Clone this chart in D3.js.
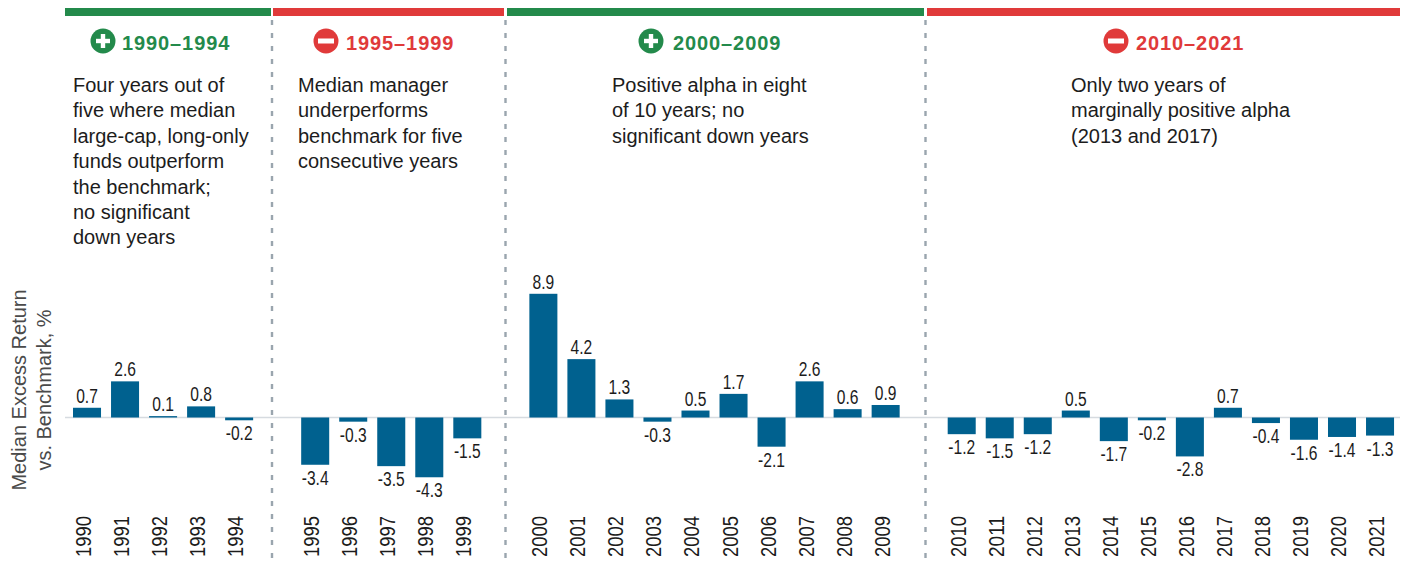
<!DOCTYPE html>
<html>
<head>
<meta charset="utf-8">
<style>
html, body { margin: 0; padding: 0; background: #fff; }
svg { display: block; }
text { font-family: "Liberation Sans", Arial, sans-serif; }
</style>
<script src="https://cdn.jsdelivr.net/npm/d3@7"></script>
</head>
<body>
<div id="chart"></div>
<script>
// data
var years = ["1990","1991","1992","1993","1994","1995","1996","1997","1998","1999",
             "2000","2001","2002","2003","2004","2005","2006","2007","2008","2009",
             "2010","2011","2012","2013","2014","2015","2016","2017","2018","2019","2020","2021"];
var values = [0.7,2.6,0.1,0.8,-0.2,-3.4,-0.3,-3.5,-4.3,-1.5,
              8.9,4.2,1.3,-0.3,0.5,1.7,-2.1,2.6,0.6,0.9,
              -1.2,-1.5,-1.2,0.5,-1.7,-0.2,-2.8,0.7,-0.4,-1.6,-1.4,-1.3];
var period_labels = ["1990\u20131994","1995\u20131999","2000\u20132009","2010\u20132021"];
var period_signs = ["+","-","+","-"];
var period_first_years = ["1990","1995","2000","2010"];
var period_notes = [
    ["Four years out of","five where median","large-cap, long-only","funds outperform","the benchmark;","no significant","down years"],
    ["Median manager","underperforms","benchmark for five","consecutive years"],
    ["Positive alpha in eight","of 10 years; no","significant down years"],
    ["Only two years of","marginally positive alpha","(2013 and 2017)"]
];
var y_title = ["Median Excess Return","vs. Benchmark, %"];

var width = 1408, height = 562;
var green = "#238a4b", red = "#e03a3a", bar_color = "#00618f", ink = "#1c1c1c";

// layout of the four panels
var band_x0 = [65, 273, 507, 927];
var band_x1 = [271, 504, 924, 1400];
var icon_x = [103, 326, 651, 1116];
var head_x = [122, 346, 673, 1136];
var note_x = [73, 298, 612, 1071];
var divider_x = [272, 505.5, 925.5];

var svg = d3.select("#chart").append("svg")
    .attr("width", width)
    .attr("height", height);

// one empty slot sits in front of each new period
var slots = [];
years.forEach(function(y) {
    if (y != "1990" && period_first_years.indexOf(y) >= 0) slots.push("gap" + y);
    slots.push(y);
});

var x = d3.scaleBand()
    .domain(slots)
    .range([68, 68 + 38.03 * slots.length])
    .paddingInner(10 / 38)
    .paddingOuter(5 / 38);

var y = d3.scaleLinear()
    .domain([-4.3, 8.9])
    .range([417.5 + 4.3 * 13.9, 417.5 - 8.9 * 13.9]);

var rows = years.map(function(d, i) { return {year: d, value: values[i]}; });
var panels = period_labels.map(function(d, i) {
    return {label: d, sign: period_signs[i], notes: period_notes[i], index: i};
});
function panel_color(d) { return d.sign == "+" ? green : red; }

// zero line
svg.append("line")
    .attr("x1", 65).attr("x2", 1400)
    .attr("y1", y(0)).attr("y2", y(0))
    .attr("stroke", "#d6dbe0")
    .attr("stroke-width", 1.5);

// dividers
svg.append("g").selectAll("line")
    .data(divider_x)
    .enter().append("line")
        .attr("x1", d => d).attr("x2", d => d)
        .attr("y1", 20).attr("y2", height)
        .attr("stroke", "#9aa5ae")
        .attr("stroke-width", 2.4)
        .attr("stroke-dasharray", "5,8");

// header bands
svg.append("g").selectAll("rect")
    .data(panels)
    .enter().append("rect")
        .attr("x", d => band_x0[d.index])
        .attr("y", 8)
        .attr("width", d => band_x1[d.index] - band_x0[d.index])
        .attr("height", 8)
        .attr("fill", panel_color);

// icons
var icon = svg.append("g").selectAll("g")
    .data(panels)
    .enter().append("g")
        .attr("transform", d => "translate(" + icon_x[d.index] + ",41)");
icon.append("circle")
    .attr("r", 12.5)
    .attr("fill", panel_color);
icon.filter(d => d.sign == "-").append("rect")
    .attr("x", -8).attr("y", -2.5)
    .attr("width", 16).attr("height", 5)
    .attr("fill", "#fff");
icon.filter(d => d.sign == "+").append("rect")
    .attr("x", -7).attr("y", -2.2)
    .attr("width", 14).attr("height", 4.4)
    .attr("fill", "#fff");
icon.filter(d => d.sign == "+").append("rect")
    .attr("x", -2.2).attr("y", -7)
    .attr("width", 4.4).attr("height", 14)
    .attr("fill", "#fff");

// period titles
svg.append("g").selectAll("text")
    .data(panels)
    .enter().append("text")
        .attr("x", d => head_x[d.index])
        .attr("y", 50)
        .attr("font-size", 20)
        .attr("font-weight", "bold")
        .attr("letter-spacing", 0.9)
        .attr("fill", panel_color)
        .text(d => d.label);

// notes
svg.append("g").selectAll("text")
    .data(panels)
    .enter().append("text")
        .attr("font-size", 20)
        .attr("fill", ink)
        .each(function(d) {
            d3.select(this).selectAll("tspan")
                .data(d.notes)
                .enter().append("tspan")
                    .attr("x", note_x[d.index])
                    .attr("y", (n, i) => 92 + i * 25.4)
                    .text(n => n);
        });

// bars
svg.append("g").selectAll("rect")
    .data(rows)
    .enter().append("rect")
        .attr("x", d => x(d.year))
        .attr("y", d => y(Math.max(d.value, 0)))
        .attr("width", x.bandwidth())
        .attr("height", d => Math.abs(y(d.value) - y(0)))
        .attr("fill", bar_color);

// value labels, squeezed sideways like the condensed face of the original
svg.append("g").selectAll("text")
    .data(rows)
    .enter().append("text")
        .attr("transform", function(d) {
            var lx = x(d.year) + x.bandwidth() / 2;
            var ly = d.value >= 0 ? y(d.value) - 5 : y(d.value) + 20;
            return "translate(" + lx + "," + ly + ") scale(0.8,1)";
        })
        .attr("text-anchor", "middle")
        .attr("font-size", 19.5)
        .attr("fill", ink)
        .text(d => d.value.toFixed(1));

// year labels
svg.append("g").selectAll("text")
    .data(years)
    .enter().append("text")
        .attr("transform", d => "translate(" + (x(d) + 18) + ",557) rotate(-90)")
        .attr("font-size", 21.5)
        .attr("textLength", 41)
        .attr("lengthAdjust", "spacingAndGlyphs")
        .attr("fill", ink)
        .text(d => d);

// y title
svg.append("g").selectAll("text")
    .data(y_title)
    .enter().append("text")
        .attr("transform", (d, i) => "translate(" + (26 + i * 25) + ",390) rotate(-90)")
        .attr("text-anchor", "middle")
        .attr("font-size", 20)
        .attr("fill", "#4a4a4a")
        .text(d => d);
</script>
</body>
</html>
